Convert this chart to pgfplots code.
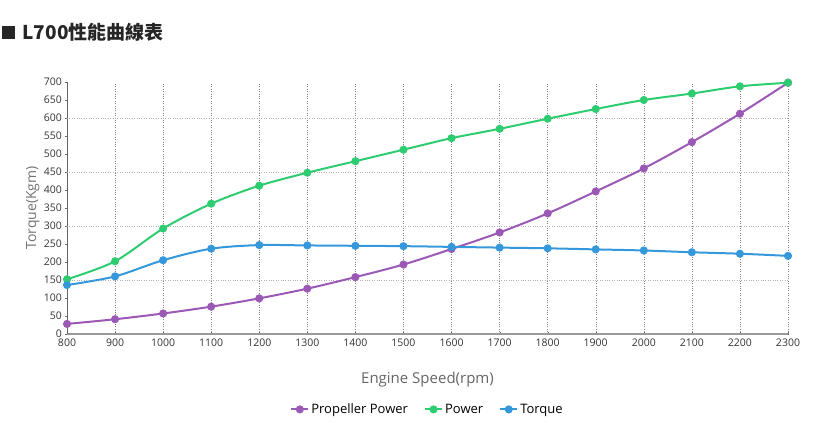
\documentclass[border=0pt]{standalone}
\usepackage{pgfplots}
\pgfplotsset{compat=1.18}
\usepackage{fontspec}
\setmainfont{Open Sans}
\newfontfamily\cjk{Noto Sans CJK TC}
\definecolor{cP}{HTML}{9B59B6}
\definecolor{cG}{HTML}{2ECC71}
\definecolor{cB}{HTML}{3498DB}
\begin{document}
\begin{tikzpicture}
\path[use as bounding box] (0,0) rectangle (815pt,423pt);
\fill[black!85] (2pt,384pt) rectangle (15pt,397pt);
\node[anchor=west,font=\cjk\bfseries\fontsize{19}{21}\selectfont,text=black!85] at (19pt,391pt) {L700性能曲線表};
\begin{axis}[at={(67pt,89pt)},anchor=south west,
 width=721pt,height=252pt,scale only axis,
 xmin=800,xmax=2300,ymin=0,ymax=700,
 xtick={800,900,...,2300},ytick={0,50,...,700},
 /pgf/number format/assume math mode=true,
 /pgf/number format/set thousands separator={},
 tick label style={font=\fontsize{10.5}{12}\selectfont,text=black!80},
 axis x line=bottom, axis y line=left, axis line style={black!60,-},
 x axis line style={line width=2.5pt,black!40},
 tick style={black!60}, major tick length=3pt,
 xmajorgrids, extra y ticks={150,300,450,600}, extra y tick labels={},
 extra y tick style={ymajorgrids,grid style={black!30,dotted,thick},major tick length=0pt},
 grid style={black!50,dotted},
 ylabel={Torque(Kgm)}, ylabel style={text=black!55,font=\fontsize{14}{16}\selectfont,yshift=-4pt},
 xlabel={Engine Speed(rpm)}, xlabel style={text=black!60,font=\fontsize{15}{17}\selectfont,yshift=-18pt},
 legend style={at={(0.5,-0.26)},anchor=north,draw=none,legend columns=3,font=\fontsize{13}{15}\selectfont,/tikz/every even column/.append style={column sep=14pt}},
 legend cell align=left,
 every axis plot/.append style={line width=2pt,smooth,mark=*,mark size=3pt},
]
\addplot[cP,mark options={fill=cP}] coordinates {(800,28)(900,41)(1000,57)(1100,76)(1200,99)(1300,126)(1400,158)(1500,193)(1600,236)(1700,282)(1800,335)(1900,396)(2000,460)(2100,533)(2200,612)(2300,698)};
\addlegendentry{Propeller Power}
\addplot[cG,mark options={fill=cG}] coordinates {(800,152)(900,202)(1000,293)(1100,362)(1200,412)(1300,448)(1400,480)(1500,512)(1600,544)(1700,570)(1800,598)(1900,625)(2000,650)(2100,668)(2200,688)(2300,698)};
\addlegendentry{Power}
\addplot[cB,mark options={fill=cB}] coordinates {(800,136)(900,160)(1000,205)(1100,237)(1200,247)(1300,246)(1400,245)(1500,244)(1600,242)(1700,240)(1800,238)(1900,235)(2000,232)(2100,227)(2200,223)(2300,217)};
\addlegendentry{Torque}
\end{axis}
\end{tikzpicture}
\end{document}
